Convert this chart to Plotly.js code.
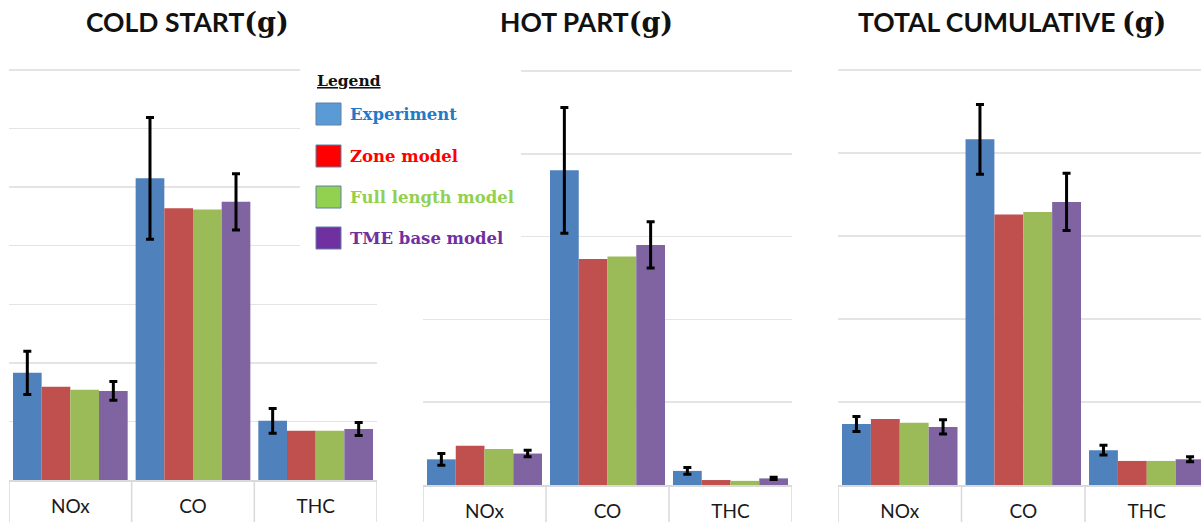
<!DOCTYPE html>
<html>
<head>
<meta charset="utf-8">
<script src="https://cdn.plot.ly/plotly-3.0.1.min.js"></script>
<style>html,body{margin:0;padding:0;background:#fff;}#chart{width:1201px;height:522px;}</style>
</head>
<body>
<div id="chart"></div>
<script>
// ---- data (arbitrary gridline units) ----
const categories = ['NOx', 'CO', 'THC'];
const seriesNames = ['Experiment', 'Zone model', 'Full length model', 'TME base model'];
const panelTitles = ['COLD START', 'HOT PART', 'TOTAL CUMULATIVE '];

const coldExp = [1.83, 5.15, 1.01];
const coldExpErr = [0.37, 1.04, 0.21];
const coldZone = [1.59, 4.64, 0.84];
const coldFull = [1.54, 4.62, 0.84];
const coldTme = [1.52, 4.75, 0.87];
const coldTmeErr = [0.16, 0.48, 0.11];

const hotExp = [0.31, 3.80, 0.17];
const hotExpErr = [0.07, 0.76, 0.04];
const hotZone = [0.475, 2.73, 0.06];
const hotFull = [0.435, 2.76, 0.05];
const hotTme = [0.38, 2.90, 0.08];
const hotTmeErr = [0.04, 0.28, 0.015];

const totExp = [0.735, 4.165, 0.42];
const totExpErr = [0.09, 0.42, 0.06];
const totZone = [0.795, 3.26, 0.29];
const totFull = [0.75, 3.29, 0.29];
const totTme = [0.70, 3.41, 0.31];
const totTmeErr = [0.085, 0.345, 0.03];

// ---- styling ----
const W = 1201, H = 522;
const barColors = ['#4F81BD', '#C0504D', '#9BBB59', '#8064A2'];
const legendSwatch = ['#5B9BD5', '#FF0000', '#92D050', '#7030A0'];
const legendText = ['#1F7BC8', '#FF0000', '#92D050', '#7030A0'];
const gridColor = '#e4e4e4';
const boxColor = '#d9d9d9';
const headPx = 6; // extra room above top gridline so it is drawn

const panels = [
  {vals: [coldExp, coldZone, coldFull, coldTme], errs: [coldExpErr, null, null, coldTmeErr],
   xpx: [9, 377], ypx: [70, 480], ymax: 7, xr: [-0.5, 2.5], titleX: 187},
  {vals: [hotExp, hotZone, hotFull, hotTme], errs: [hotExpErr, null, null, hotTmeErr],
   xpx: [423, 792], ypx: [71, 485], ymax: 5, xr: [-0.5, 2.5], titleX: 586},
  {vals: [totExp, totZone, totFull, totTme], errs: [totExpErr, null, null, totTmeErr],
   xpx: [838, 1201], ypx: [70, 485], ymax: 5, xr: [-0.5, 2.439], titleX: 1012}
];

const traces = [];
const layout = {
  width: W, height: H,
  margin: {l: 0, r: 0, t: 0, b: 0},
  paper_bgcolor: '#fff', plot_bgcolor: 'rgba(0,0,0,0)',
  barmode: 'group', bargap: 0.065, bargroupgap: 0,
  showlegend: false,
  font: {family: 'Lato, "Open Sans", sans-serif', color: '#222'},
  shapes: [], annotations: []
};

panels.forEach((p, k) => {
  const sfx = k === 0 ? '' : String(k + 1);
  const xa = 'x' + sfx, ya = 'y' + sfx;
  seriesNames.forEach((nm, s) => {
    const t = {
      type: 'bar', name: nm, x: categories, y: p.vals[s],
      xaxis: xa, yaxis: ya,
      marker: {color: barColors[s], line: {width: 0}},
      hoverinfo: 'x+y+name'
    };
    if (p.errs[s]) {
      t.error_y = {type: 'data', array: p.errs[s], visible: true, color: '#000', thickness: 3, width: 4};
    }
    traces.push(t);
  });
  const unitPx = (p.ypx[1] - p.ypx[0]) / p.ymax;
  const topPx = p.ypx[0] - headPx;
  const yDom = [1 - p.ypx[1] / H, 1 - topPx / H];
  layout['xaxis' + sfx] = {
    domain: [p.xpx[0] / W, p.xpx[1] / W], anchor: ya, type: 'category',
    range: p.xr, showgrid: false, zeroline: false,
    showline: true, linecolor: boxColor, linewidth: 1.5,
    ticks: 'outside', ticklen: 9, tickcolor: 'rgba(0,0,0,0)',
    tickfont: {family: 'Lato, sans-serif', size: 19, color: '#1a1a1a'},
    fixedrange: true
  };
  layout['yaxis' + sfx] = {
    domain: yDom, anchor: xa, range: [0, p.ymax + headPx / unitPx], dtick: 1, tick0: 0,
    showgrid: true, gridcolor: gridColor, gridwidth: 1.5,
    zeroline: false, showline: false, showticklabels: false, ticks: '',
    fixedrange: true
  };
  // category box separators
  for (let i = 0; i <= categories.length; i++) {
    layout.shapes.push({type: 'line', xref: xa, yref: 'paper',
      x0: i - 0.5, x1: i - 0.5, y0: 0, y1: yDom[0],
      line: {color: boxColor, width: 1.5}, layer: 'above'});
  }
  // panel title
  layout.annotations.push({
    xref: 'paper', yref: 'paper', x: p.titleX / W, y: 1 - 22 / H,
    xanchor: 'center', yanchor: 'middle', showarrow: false,
    text: '<b>' + panelTitles[k] + '</b><span style="font-family:DejaVu Serif;font-weight:bold;font-size:27px">(g)</span>',
    font: {family: 'Lato, sans-serif', size: 26.5, color: '#111'}
  });
});

// custom legend (white panel covering gridlines)
layout.shapes.push({type: 'rect', xref: 'paper', yref: 'paper',
  x0: 300 / W, x1: 521 / W, y0: 1 - 258 / H, y1: 1 - 62 / H,
  fillcolor: '#fff', line: {width: 0}, layer: 'above'});
layout.annotations.push({
  xref: 'paper', yref: 'paper', x: 315 / W, y: 1 - 81 / H,
  xanchor: 'left', yanchor: 'middle', showarrow: false,
  text: '<b><u>Legend</u></b>',
  font: {family: 'DejaVu Serif, serif', size: 15.5, color: '#111'}
});
const legY = [114, 156, 197, 238];
seriesNames.forEach((nm, s) => {
  layout.shapes.push({type: 'rect', xref: 'paper', yref: 'paper',
    x0: 316 / W, x1: 341 / W, y0: 1 - (legY[s] + 11) / H, y1: 1 - (legY[s] - 11) / H,
    fillcolor: legendSwatch[s], line: {color: '#5f7fa8', width: 1}, layer: 'above'});
  layout.annotations.push({
    xref: 'paper', yref: 'paper', x: 348 / W, y: 1 - legY[s] / H,
    xanchor: 'left', yanchor: 'middle', showarrow: false,
    text: '<b>' + nm + '</b>',
    font: {family: 'DejaVu Serif, serif', size: 16.5, color: legendText[s]}
  });
});

Plotly.newPlot('chart', traces, layout, {displayModeBar: false, staticPlot: true});
</script>
</body>
</html>
